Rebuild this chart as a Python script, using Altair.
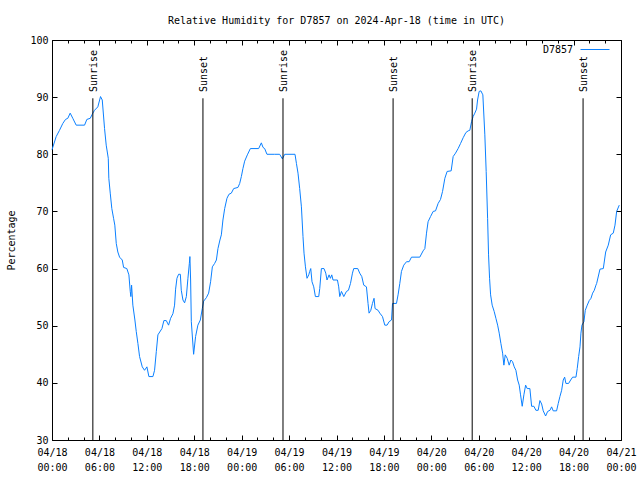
import altair as alt
import pandas as pd

# Hours since 2024-04-18 00:00 UTC and relative humidity (%)
hours = [0.0, 0.53, 0.95, 1.37, 1.71, 2.0, 2.3, 2.63, 3.06, 4.12, 4.41, 4.84, 5.09, 5.38, 5.8,
         6.14, 6.36, 6.65, 6.86, 7.12, 7.19, 7.37, 7.57, 7.79, 7.95, 8.13, 8.33, 8.55, 8.89, 9.06,
         9.47, 9.73, 9.9, 9.98, 10.07, 10.23, 10.49, 10.66, 10.87, 11.08, 11.42, 11.71, 12.01, 12.26,
         12.77, 12.98, 13.2, 13.4, 13.91, 14.16, 14.46, 14.75, 15.01, 15.3, 15.51, 15.64, 15.81, 16.02,
         16.24, 16.36, 16.57, 16.78, 17.0, 17.2, 17.38, 17.45, 17.54, 17.63, 17.92, 18.17, 18.46, 18.77,
         19.02, 19.19, 19.53, 19.82, 20.07, 20.29, 20.58, 20.8, 21.0, 21.25, 21.43, 21.63, 21.85, 22.14,
         22.39, 22.69, 22.99, 23.53, 23.75, 23.96, 24.16, 24.38, 24.72, 25.1, 26.15, 26.49, 26.7, 26.91,
         27.2, 28.18, 28.81, 29.15, 29.45, 30.75, 30.93, 31.13, 31.34, 31.56, 31.76, 31.89, 32.07, 32.27,
         32.49, 32.61, 32.74, 32.9, 33.12, 33.33, 33.75, 33.88, 34.09, 34.42, 34.64, 34.8, 35.06, 35.23,
         35.4, 35.56, 36.12, 36.28, 36.41, 36.63, 36.92, 37.26, 37.51, 37.77, 38.02, 38.18, 38.69, 38.94,
         39.2, 39.45, 39.79, 39.99, 40.12, 40.34, 40.55, 40.75, 40.88, 41.26, 41.48, 41.82, 42.11, 42.4,
         42.65, 42.96, 43.09, 43.59, 43.79, 44.01, 44.22, 44.51, 44.86, 45.19, 45.49, 46.54, 46.96, 47.18,
         47.39, 47.59, 47.9, 48.23, 48.53, 48.86, 49.16, 49.42, 49.71, 50.0, 50.51, 50.76, 51.06, 51.39,
         51.7, 52.03, 52.37, 52.66, 52.87, 53.09, 53.29, 53.5, 53.72, 53.85, 54.05, 54.27, 54.52, 54.77,
         54.94, 55.12, 55.24, 55.37, 55.5, 55.7, 55.95, 56.17, 56.39, 56.59, 56.8, 57.02, 57.18, 57.35,
         57.6, 57.85, 58.07, 58.28, 58.49, 58.7, 58.92, 59.12, 59.29, 59.5, 59.71, 59.93, 60.13, 60.47,
         60.69, 60.98, 61.23, 61.52, 61.74, 61.96, 62.16, 62.46, 62.72, 63.01, 63.22, 63.42, 63.85, 64.06,
         64.27, 64.49, 64.69, 64.87, 65.03, 65.37, 65.63, 65.88, 66.3, 66.46, 66.64, 66.81, 66.93, 67.06,
         67.31, 67.48, 67.73, 67.98, 68.2, 68.41, 68.62, 68.83, 68.92, 69.34, 69.76, 70.06, 70.39, 70.69,
         71.02, 71.24, 71.45, 71.78]
humidity = [80.8, 83.1, 84.2, 85.4, 86.1, 86.3, 87.2, 86.3, 85.1, 85.1, 86.1, 86.3, 87.0, 87.7, 88.3,
            90.1, 89.5, 84.5, 81.6, 79.3, 75.8, 73.2, 70.5, 68.8, 67.6, 64.4, 62.9, 62.0, 61.5, 60.2,
            60.0, 58.9, 56.0, 55.1, 57.1, 53.6, 51.0, 49.0, 46.9, 44.6, 42.8, 42.2, 42.8, 41.1,
            41.1, 42.2, 45.5, 48.4, 49.5, 50.9, 50.9, 50.1, 51.3, 52.1, 53.6, 56.4, 58.3, 59.0,
            59.0, 56.2, 54.5, 54.0, 55.1, 58.3, 60.9, 62.1, 58.0, 50.7, 45.0, 48.1, 50.1, 51.0,
            53.0, 54.3, 54.9, 55.7, 57.7, 60.3, 60.9, 61.5, 63.5, 65.0, 65.9, 68.5, 70.5, 72.3,
            73.0, 73.2, 74.0, 74.2, 74.9, 76.1, 77.5, 78.8, 79.9, 81.0, 81.0, 82.0, 81.2, 81.0,
            80.0, 80.0, 80.0, 79.2, 80.0, 80.0, 78.4, 76.7, 74.0, 70.8, 65.6, 62.7, 60.3, 58.3,
            58.9, 59.5, 60.0, 57.7, 56.8, 55.1, 55.1, 56.5, 60.0, 60.0, 59.2, 58.0, 58.9, 58.3,
            58.9, 58.0, 58.0, 56.8, 55.1, 56.0, 55.1, 56.0, 56.2, 57.4, 59.2, 60.0, 60.0, 59.2,
            58.6, 57.1, 56.8, 53.9, 52.2, 52.7, 53.9, 54.8, 53.0, 52.7, 52.2, 51.6, 50.1, 50.1,
            50.7, 51.0, 53.9, 53.9, 55.4, 57.4, 59.5, 60.6, 61.2, 61.2, 62.0, 62.0, 63.1, 63.5,
            66.2, 68.2, 69.1, 70.0, 70.1, 71.4, 72.1, 73.5, 75.8, 77.0, 77.1, 79.6, 80.2, 81.0,
            81.9, 82.9, 83.8, 84.1, 84.2, 85.7, 86.6, 87.2, 87.9, 89.5, 91.0, 91.1, 90.4, 83.4,
            77.0, 68.8, 62.4, 58.3, 55.4, 53.6, 52.5, 51.3, 50.1, 48.7, 46.9, 45.2, 43.1, 44.9,
            44.3, 43.1, 44.0, 43.7, 42.8, 42.2, 40.5, 39.6, 37.9, 35.9, 37.9, 39.6, 39.0, 39.0,
            35.9, 35.9, 35.2, 35.2, 36.9, 36.3, 35.1, 34.2, 35.0, 35.2, 35.8, 35.1, 35.1, 36.4,
            37.6, 38.7, 40.5, 41.0, 39.9, 39.9, 40.5, 41.0, 41.0, 42.5, 44.6, 46.3, 48.7, 50.1,
            50.7, 52.7, 53.6, 54.4, 54.8, 55.7, 56.2, 57.1, 57.4, 59.9, 60.0, 62.9, 64.1, 65.9,
            66.2, 67.6, 70.0, 71.1]

sun_hours = [5.17, 19.1, 29.23, 43.16, 53.17, 67.2]
sun_labels = ["Sunrise", "Sunset", "Sunrise", "Sunset", "Sunrise", "Sunset"]

major_ticks = [0, 6, 12, 18, 24, 30, 36, 42, 48, 54, 60, 66, 72]
minor_ticks = list(range(0, 73, 2))
y_ticks = [30, 40, 50, 60, 70, 80, 90, 100]
day_labels = ["04/18", "04/19", "04/20", "04/21"]
series_name = "D7857"

df = pd.DataFrame({"h": hours, "v": humidity})
sun = pd.DataFrame({"h": sun_hours, "label": sun_labels})

FONT = "DejaVu Sans Mono"
BLUE = "#0a80ff"
MAJOR = 5
MINOR = 3

xscale = alt.Scale(domain=[0, 72], nice=False, zero=False)
yscale = alt.Scale(domain=[30, 100], nice=False, zero=False)

label_expr = ("[" + str(day_labels) + "[floor(datum.value/24)], "
              "(datum.value % 24 < 10 ? '0' : '') + (datum.value % 24) + ':00']")

def tick_axis(orient, values, size, labels=False, **kw):
    return alt.Axis(orient=orient, values=values, labels=labels, tickSize=alt.ExprRef(expr=str(-size)),
                    tickColor="black", tickWidth=1, domain=False, grid=False, title=None, **kw)

line = alt.Chart(df).mark_line(color=BLUE, strokeWidth=1).encode(
    x=alt.X("h:Q", scale=xscale,
            axis=alt.Axis(orient="bottom", values=major_ticks, labelExpr=label_expr,
                          tickSize=alt.ExprRef(expr=str(-MAJOR)), tickColor="black", domain=False, grid=False,
                          title=None, labelPadding=MAJOR + 7, labelLineHeight=15, labelFont=FONT,
                          labelFontSize=10, labelColor="black", labelFlush=False)),
    y=alt.Y("v:Q", scale=yscale,
            axis=alt.Axis(orient="left", values=y_ticks, tickSize=alt.ExprRef(expr=str(-MAJOR)),
                          tickColor="black", domain=False, grid=False, labelPadding=MAJOR + 4,
                          labelFont=FONT, labelFontSize=10, labelColor="black",
                          title="Percentage", titleFont=FONT, titleFontSize=10,
                          titleFontWeight="normal", titleColor="black", titleX=-41, titleY=200,
                          titleAngle=270, titleAlign="center", titleBaseline="middle")),
)

ghost_major = alt.Chart(df).mark_line(strokeOpacity=0).encode(
    x=alt.X("h:Q", scale=xscale, axis=tick_axis("top", major_ticks, MAJOR)),
    y=alt.Y("v:Q", scale=yscale, axis=tick_axis("right", y_ticks, MAJOR)),
)
ghost_minor_b = alt.Chart(df).mark_line(strokeOpacity=0).encode(
    x=alt.X("h:Q", scale=xscale, axis=tick_axis("bottom", minor_ticks, MINOR)),
    y=alt.Y("v:Q", scale=yscale, axis=None),
)
ghost_minor_t = alt.Chart(df).mark_line(strokeOpacity=0).encode(
    x=alt.X("h:Q", scale=xscale, axis=tick_axis("top", minor_ticks, MINOR)),
    y=alt.Y("v:Q", scale=yscale, axis=None),
)

sun_rules = alt.Chart(sun).mark_rule(color="black", strokeWidth=1).encode(
    x=alt.X("h:Q", scale=xscale, axis=None),
    y=alt.YDatum(30, scale=yscale, axis=None),
    y2=alt.Y2Datum(89.8),
)
sun_text = alt.Chart(sun).mark_text(angle=270, align="left", baseline="middle", font=FONT,
                                    fontSize=10, color="black", dy=1).encode(
    x=alt.X("h:Q", scale=xscale, axis=None),
    y=alt.YDatum(90.9, scale=yscale, axis=None),
    text="label:N",
)

legend_df = pd.DataFrame({"name": [series_name]})
legend_text = alt.Chart(legend_df).mark_text(align="right", baseline="middle", font=FONT,
                                             fontSize=10, color="black").encode(
    x=alt.value(521), y=alt.value(10), text="name:N")
legend_line = alt.Chart(legend_df).mark_rule(color=BLUE, strokeWidth=1).encode(
    x=alt.value(528.5), x2=alt.value(557.5), y=alt.value(9.5))

chart = alt.layer(line, ghost_major, ghost_minor_b, ghost_minor_t, sun_rules, sun_text,
                  legend_text, legend_line).resolve_axis(x="independent", y="independent").properties(
    width=569, height=400,
    autosize=alt.AutoSizeParams(type="none"),
    padding={"left": 52, "top": 40, "right": 19, "bottom": 40},
    title=alt.TitleParams("Relative Humidity for D7857 on 2024-Apr-18 (time in UTC)",
                          font=FONT, fontSize=10, fontWeight="normal", color="black",
                          anchor="middle", baseline="alphabetic", offset=1, frame="group"),
    background="white",
).configure_view(stroke="black", strokeWidth=1)

chart.save("out.html", embed_options={"renderer": "svg", "actions": False})
